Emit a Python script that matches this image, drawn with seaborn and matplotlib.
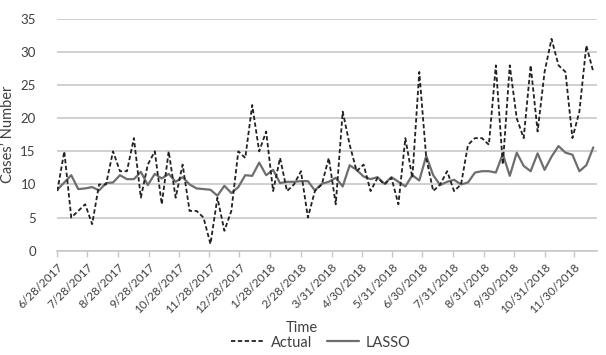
import matplotlib
matplotlib.use("Agg")
import matplotlib.pyplot as plt
from matplotlib.lines import Line2D
import pandas as pd
import seaborn as sns

# weekly values, first week 6/28/2017
start_date = "2017-06-28"
actual = [9, 15, 5, 6, 7, 4, 10, 10, 15, 12, 12, 17, 8, 13, 15, 7, 15, 8, 13, 6,
          6, 5, 1, 8, 3, 6, 15, 14, 22, 15, 18, 9, 14, 9, 10, 12, 5, 9, 10, 14,
          7, 21, 16, 12, 13, 9, 11, 10, 11, 7, 17, 11, 27, 14, 9, 10, 12, 9, 10, 16,
          17, 17, 16, 28, 13, 28, 20, 17, 28, 18, 27, 32, 28, 27, 17, 21, 31, 27]
lasso = [9.2, 10.3, 11.4, 9.3, 9.4, 9.6, 9.1, 10.2, 10.3, 11.4, 10.8, 10.8, 11.9, 9.9, 11.6, 10.9, 11.6, 10.4, 11.1, 10.0,
         9.4, 9.3, 9.2, 8.3, 9.8, 8.7, 9.6, 11.4, 11.3, 13.3, 11.4, 12.2, 10.2, 10.4, 10.4, 10.5, 10.5, 9.1, 10.1, 10.4,
         11.0, 9.7, 12.9, 12.2, 11.2, 10.8, 11.1, 10.1, 11.1, 10.4, 9.7, 11.4, 10.6, 14.3, 11.4, 9.9, 10.4, 10.7, 10.0, 10.3,
         11.8, 12.0, 12.0, 11.8, 14.6, 11.3, 14.8, 12.8, 12.0, 14.7, 12.2, 14.2, 15.8, 14.8, 14.5, 12.0, 12.9, 15.6]
tick_labels = ["6/28/2017", "7/28/2017", "8/28/2017", "9/28/2017", "10/28/2017", "11/28/2017",
               "12/28/2017", "1/28/2018", "2/28/2018", "3/31/2018", "4/30/2018", "5/31/2018",
               "6/30/2018", "7/31/2018", "8/31/2018", "9/30/2018", "10/31/2018", "11/30/2018"]

dates = pd.date_range(start_date, periods=len(actual), freq="7D")
df = pd.DataFrame({"Time": dates, "Actual": actual, "LASSO": lasso})

sns.set_style("white")
plt.rcParams["font.family"] = ["Lato", "DejaVu Sans"]
text_color = "#404040"
grid_color = "#c8c8c8"
dash = (0, (2.4, 1.4))

fig = plt.figure(figsize=(6.06, 3.55), dpi=100)
ax = fig.add_axes([0.0946, 0.294, 0.891, 0.6525])

sns.lineplot(data=df, x="Time", y="LASSO", color="#6e6e6e", linewidth=1.6, ax=ax)
sns.lineplot(data=df, x="Time", y="Actual", color="#222222", linewidth=1.3,
             linestyle=dash, ax=ax)

ax.set_ylim(0, 35)
ax.set_yticks(range(0, 36, 5))
ax.set_xlim(pd.Timestamp(start_date), pd.Timestamp("2018-12-23"))
ax.yaxis.grid(True, color=grid_color, linewidth=1.2)
ax.set_axisbelow(True)

tick_pos = pd.to_datetime(tick_labels, format="%m/%d/%Y")
ax.set_xticks(tick_pos)
ax.set_xticklabels(tick_labels, rotation=45, ha="right", rotation_mode="anchor")
ax.tick_params(axis="x", bottom=True, length=4, color=grid_color, width=1,
               labelsize=8.5, labelcolor=text_color, pad=4)
ax.tick_params(axis="y", left=False, labelsize=9.5, labelcolor=text_color, pad=12)

for side in ["top", "right", "left"]:
    ax.spines[side].set_visible(False)
ax.spines["bottom"].set_color(grid_color)
ax.spines["bottom"].set_linewidth(1.2)

ax.set_xlabel("")
ax.set_ylabel("Cases\u2019 Number", fontsize=10.5, color=text_color, labelpad=4)
fig.text(0.498, 0.076, "Time", ha="center", va="center", fontsize=10.5, color=text_color)

handles = [Line2D([], [], color="#222222", linewidth=1.3, linestyle=dash),
           Line2D([], [], color="#6e6e6e", linewidth=1.6)]
fig.legend(handles, ["Actual", "LASSO"], loc="center", bbox_to_anchor=(0.53, 0.035),
           ncol=2, frameon=False, fontsize=10.5, labelcolor=text_color,
           handlelength=2.2, handletextpad=0.5, columnspacing=1.0)

fig.savefig("out.png", dpi=100)
